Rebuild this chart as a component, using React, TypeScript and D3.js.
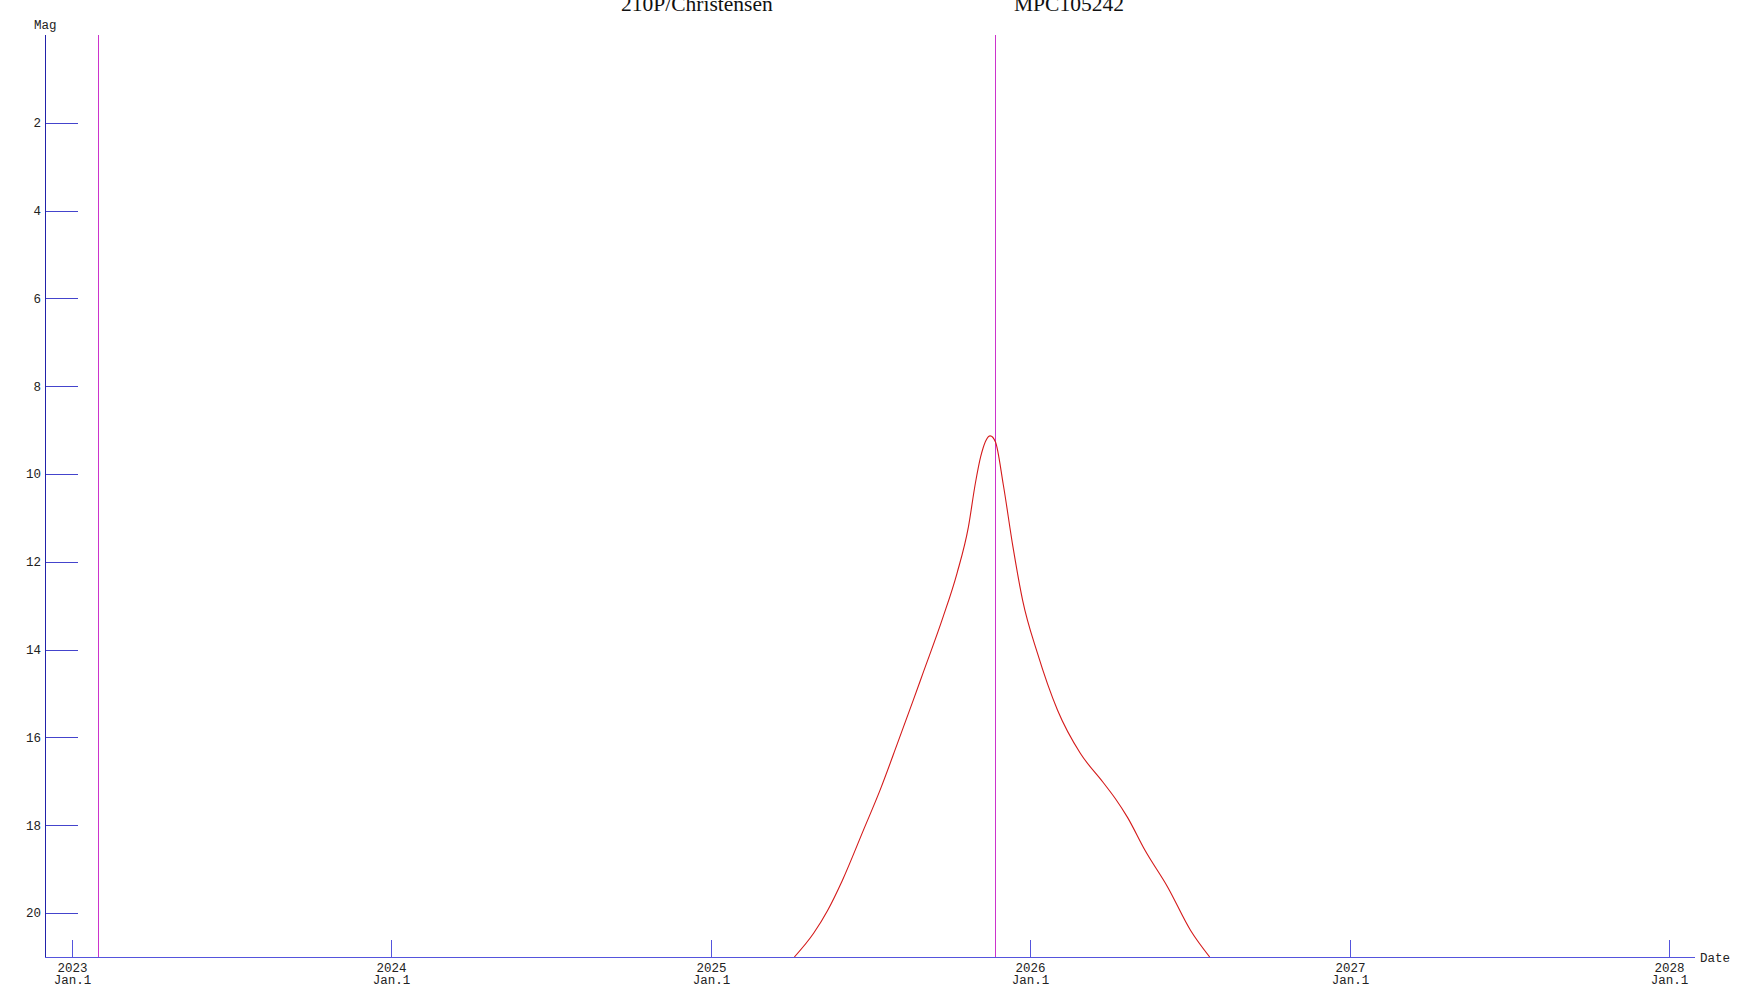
import React, { useEffect } from "react";
import * as d3 from "d3";

const titleName = "210P/Christensen";
const titleCode = "MPC105242";

const curveDates = [
  "2025-04-06", "2025-04-28", "2025-05-14", "2025-05-31", "2025-06-24", "2025-07-13",
  "2025-08-02", "2025-08-20", "2025-08-31", "2025-09-23", "2025-10-09", "2025-10-22",
  "2025-10-30", "2025-11-05", "2025-11-16", "2025-11-22", "2025-12-01",
  "2025-12-12", "2025-12-23", "2026-01-09", "2026-02-01", "2026-02-27", "2026-03-25",
  "2026-04-08", "2026-04-22", "2026-05-12", "2026-06-07", "2026-07-03", "2026-07-25",
];
const curveMags = [
  21.0, 20.46, 19.94, 19.25, 18.11, 17.2,
  16.13, 15.15, 14.54, 13.26, 12.26, 11.21,
  10.21, 9.61, 9.13, 9.27, 10.25,
  11.66, 12.87, 14.08, 15.38, 16.36, 17.02,
  17.39, 17.82, 18.57, 19.41, 20.39, 21.0,
];

const markerDates = ["2023-01-31", "2025-11-22"];
const yearTicks = [2023, 2024, 2025, 2026, 2027, 2028];
const magTicks = [2, 4, 6, 8, 10, 12, 14, 16, 18, 20];
const domainStart = "2022-12-01";
const domainEnd = "2028-01-31";
const magDomain = [0, 21];

const W = 1750;
const H = 991;
const left = 45;
const right = 1695;
const top = 35;
const bottom = 957;

const mono = "'Liberation Mono', 'DejaVu Sans Mono', monospace";
const serif = "'Liberation Serif', 'Times New Roman', serif";

export default function App() {
  useEffect(() => {
    document.body.style.margin = "0";
    document.body.style.overflow = "hidden";
  }, []);

  const x = d3
    .scaleUtc()
    .domain([new Date(domainStart + "T00:00:00Z"), new Date(domainEnd + "T00:00:00Z")])
    .range([left, right]);
  const y = d3.scaleLinear().domain(magDomain).range([top, bottom]);

  const pts = curveDates.map((d, i) => [x(new Date(d + "T00:00:00Z")), y(curveMags[i])] as [number, number]);
  const path = d3.line().curve(d3.curveMonotoneX)(pts) || "";

  return (
    <svg
      width={W}
      height={H}
      style={{ position: "absolute", left: 0, top: 0, display: "block", background: "#fff" }}
    >
      <defs>
        <clipPath id="plot">
          <rect x={left} y={top} width={right - left} height={bottom - top} />
        </clipPath>
      </defs>
      <text x={621} y={11} fontFamily={serif} fontSize={21.5} fill="#111">
        {titleName}
      </text>
      <text x={1014} y={11} fontFamily={serif} fontSize={21.5} fill="#111">
        {titleCode}
      </text>

      <text x={34} y={29} fontFamily={mono} fontSize={12.5} fill="#222">
        Mag
      </text>

      {magTicks.map((m) => (
        <g key={m}>
          <line x1={left} x2={78} y1={Math.round(y(m)) + 0.5} y2={Math.round(y(m)) + 0.5} stroke="#4444cc" strokeWidth={1} />
          <text x={41} y={y(m)} dy="0.35em" textAnchor="end" fontFamily={mono} fontSize={12.5} fill="#222">
            {m}
          </text>
        </g>
      ))}

      {yearTicks.map((yr) => {
        const xx = Math.round(x(new Date(Date.UTC(yr, 0, 1)))) + 0.5;
        return (
          <g key={yr}>
            <line x1={xx} x2={xx} y1={940} y2={bottom} stroke="#5555dd" strokeWidth={1} />
            <text x={xx} y={972} textAnchor="middle" fontFamily={mono} fontSize={12.5} fill="#222">
              {yr}
            </text>
            <text x={xx} y={983.5} textAnchor="middle" fontFamily={mono} fontSize={12.5} fill="#222">
              Jan.1
            </text>
          </g>
        );
      })}

      {markerDates.map((d) => {
        const xx = Math.round(x(new Date(d + "T00:00:00Z"))) + 0.5;
        return <line key={d} x1={xx} x2={xx} y1={top} y2={bottom} stroke="#cc33cc" strokeWidth={1} />;
      })}

      <path d={path} fill="none" stroke="#d41a1a" strokeWidth={1.1} clipPath="url(#plot)" />

      <line x1={left + 0.5} x2={left + 0.5} y1={top} y2={bottom} stroke="#2222aa" strokeWidth={1} />
      <line x1={left} x2={right} y1={bottom + 0.5} y2={bottom + 0.5} stroke="#5555dd" strokeWidth={1} />
      <text x={1700} y={961.5} fontFamily={mono} fontSize={12.5} fill="#222">
        Date
      </text>
    </svg>
  );
}
